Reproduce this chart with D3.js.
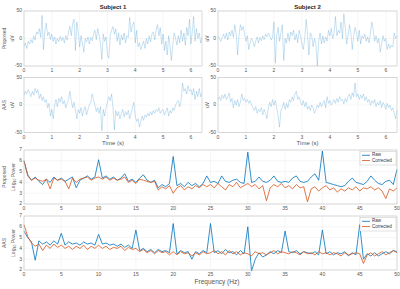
<!DOCTYPE html>
<html>
<head>
<meta charset="utf-8">
<script src="https://cdn.jsdelivr.net/npm/d3@7"></script>
<style>
body { margin: 0; background: #fff; }
svg { display: block; font-family: "Liberation Sans", Arial, sans-serif; }
</style>
</head>
<body>
<script>
// time traces, one sample every 0.05 s (uV)
const eegTime = d3.range(129).map(i => i * 0.05);
const s1Proposed = [-15,-8,-18,-5,-10,-2, -8,5,-3,12,8, 18,2,42,-20,15, 28,5,12,-2,8, -5,3,-10,0,-6, 4,-4,2,-8,5,
    -3,12,22,5,28, 35,-22,30,10,-15, 5,-8,-25,0,-6, 3,-10,2,-4,8, 15,-2,18,6,-10, -38,8,-5,3,-30, -36,5,15,22,8,
    18,-5,10,-12,6, -3,10,-8,5,2, 38,12,25,30,-8, 15,-15,-8,-20,-12, -5,-18,0,-10,5, -6,8,12,-3,15, 25,5,20,-10,8,
    -22,-5,-30,5,-15, -40,-10,10,0,-12, 5,-8,15,-5,10, -12,20,5,35,-10, 12,40,-5,18,0, 10,-8,2];
const s2Proposed = [5,0,-5,2,8,0, 10,-3,12,5,15, 2,25,10,-30,5, 25,15,22,8,-5, 5,-20,-8,0,-5, -15,-5,3,-8,2,
    -4,5,-2,8,3, 10,5,-3,2,30, -45,5,20,-5,10, 25,-40,0,-8,10, -5,12,5,15,-3, 8,-8,15,5,-10, -20,0,35,8,-30,
    10,5,-15,0,-10, -50,-5,10,-10,5, -8,3,-5,15,5, 18,0,10,40,5, 15,10,30,0,45, 20,-10,5,25,10, -20,5,20,10,-5,
    15,-10,5,0,8, -5,3,-8,10,30, 15,-5,5,-8,0, -25,-10,5,-5,0, -20,-10,-18,-12,-15, 10,0,5];
const s1Aas = [18,25,20,28,22,15, 25,18,30,22,28, 12,20,8,15,5, 10,-5,3,-20,-8, -25,0,10,-3,12, 5,15,2,8,-5,
    3,10,25,8,-5, 5,-10,-25,-8,-15, -5,-20,-10,-3,-18, -8,0,5,20,10, 0,-12,-5,-15,-3, -47,-8,-20,-5,5, 15,8,20,-5,-45,
    -10,-20,-12,-25,-15, -8,-22,-12,-18,-10, -25,-15,-5,5,-20, -30,-25,-40,-30,-20, -28,-18,-22,-15,-20, -12,-18,-10,-15,-8,
    -12,-5,-15,-10,-8, -18,-12,-5,-20,-10, -15,-5,-10,0,5, 8,-3,10,40,25, 30,20,35,25,28, 18,30,10,25,15, 30,15,22];
const s2Aas = [10,15,8,18,12,20, 10,15,22,5,12, -5,8,0,10,-3, 5,20,8,12,5, 10,3,8,0,-5, -10,-3,-15,-8,-12,
    -5,-18,-8,-15,-25, -5,5,-3,10,0, 8,-5,-20,-40,-10, -5,5,-8,3,-5, 10,5,15,8,20, 25,10,15,5,0, 8,-3,5,-8,-2,
    -10,0,-5,-15,-8, 0,-5,5,-3,3, 8,-5,15,3,8, 0,5,10,3,12, 5,15,8,10,2, 12,5,15,20,10, 22,15,40,15,20,
    10,18,12,20,8, 15,5,10,0,8, 3,10,-3,5,0, 8,-5,5,0,-8, 3,-5,0,-10,-5, -15,-25,-10];

// spectra, one bin every 0.5 Hz (log10 power)
const freqs = d3.range(101).map(i => i * 0.5);
const propRaw = [6.0,4.7,4.2,4.5,4.1,3.8,4.3,4.0,4.5,4.2, 4.4,4.1,4.3,4.5,3.5,4.2,4.4,4.6,4.3,4.5,
    6.1,4.4,4.6,4.3,4.5,4.2,4.4,4.8,4.1,4.3, 4.0,4.4,4.7,4.2,4.0,4.2,3.5,3.8,3.6,3.9,
    6.4,3.7,3.9,3.6,4.0,3.7,3.9,3.6,3.9,4.6, 4.0,4.1,3.9,4.6,4.1,4.0,4.2,4.3,4.0,3.9,
    6.8,4.0,4.1,4.5,4.1,4.0,4.2,4.6,4.1,4.0, 4.1,4.0,4.4,4.6,4.1,4.0,4.1,4.5,4.8,4.2,
    6.9,4.0,3.9,3.8,3.7,3.6,3.7,4.1,4.4,4.0, 3.9,3.8,4.1,4.6,4.2,3.9,3.8,4.1,4.2,3.8, 5.2];
const propCorr = [6.0,4.6,4.2,4.4,4.2,4.1,4.3,3.4,4.4,4.2, 4.3,4.1,3.4,4.4,4.0,4.3,4.4,4.5,4.2,4.4,
    4.5,4.3,4.5,4.2,4.4,4.2,4.3,4.5,4.0,4.2, 3.9,4.3,4.2,4.1,4.0,4.1,3.3,3.6,3.4,3.7,
    3.0,3.5,3.7,3.3,3.6,3.4,3.7,3.5,3.8,3.6, 3.8,3.5,3.9,3.6,3.3,3.8,3.6,4.0,3.5,3.7,
    3.9,3.6,3.8,3.4,3.7,2.3,3.5,3.8,3.6,3.9, 3.5,3.7,3.4,3.8,3.5,3.6,2.2,3.4,3.6,3.2,
    3.5,3.7,3.3,3.5,3.1,3.4,3.2,3.5,3.3,3.6, 3.2,3.5,3.4,3.6,3.3,3.5,3.2,2.5,3.4,3.2, 3.5];
const aasRaw = [5.6,5.0,4.6,2.9,4.7,4.4,4.6,4.3,4.7,4.4, 5.4,4.3,4.6,4.4,4.5,4.3,4.6,4.4,4.5,4.3,
    5.3,4.4,4.5,4.3,4.4,4.2,4.4,4.1,4.3,4.0, 5.7,3.8,4.0,3.7,3.9,3.6,3.9,3.7,3.8,3.6,
    6.3,3.5,3.8,3.6,3.7,3.0,3.7,3.5,3.8,3.6, 6.3,3.6,3.8,3.5,3.9,3.6,3.7,3.4,3.8,3.5,
    6.0,1.9,3.0,3.6,3.2,3.4,3.7,3.5,3.8,3.6, 5.6,3.7,3.6,3.8,3.5,3.7,3.6,3.5,3.7,3.4,
    5.7,3.5,3.7,3.4,3.6,3.5,3.7,3.3,3.6,3.4, 6.2,3.0,3.5,3.3,3.6,3.3,3.5,3.7,3.5,3.8, 3.7];
const aasCorr = [6.2,5.1,4.5,4.2,4.4,3.8,4.3,4.0,4.4,4.1, 4.3,4.0,4.2,3.9,4.2,4.0,4.3,3.9,4.2,4.0,
    4.3,4.0,4.2,3.9,4.1,4.0,4.2,3.8,4.1,3.9, 4.0,3.7,3.9,3.6,3.8,3.5,3.8,3.6,3.7,3.4,
    3.7,3.4,3.7,3.5,3.6,3.3,3.6,3.4,3.7,3.5, 3.6,3.8,3.5,3.7,3.4,3.8,3.5,3.7,3.4,3.6,
    3.5,3.3,3.7,3.5,3.6,3.4,3.6,3.8,3.5,3.7, 3.6,3.5,3.7,3.6,3.4,3.7,3.5,3.6,3.4,3.7,
    3.5,3.6,3.4,3.6,3.5,3.3,3.6,3.4,3.5,3.6, 3.5,2.6,3.4,3.6,3.3,3.5,3.7,3.4,3.6,3.8, 3.6];

const timeTicks = [0, 1, 2, 3, 4, 5, 6];
const uvTicks = [-50, 0, 50];
const freqTicks = [0, 5, 10, 15, 20, 25, 30, 35, 40, 45, 50];
const powerTicks = [2, 3, 4, 5, 6, 7];
const legendLabels = ['Raw', 'Corrected'];

const blue = '#0072BD';
const orange = '#D95319';
const boxColor = '#c4c4c4';
const gridColor = '#ececec';
const textColor = '#555';

const svg = d3.select('body')
    .append('svg')
    .attr('width', 400)
    .attr('height', 289);

function panel(x, y) {
    const g = svg.append('g');
    const [x0, x1] = x.range();
    const [y0, y1] = y.range();
    g.append('rect')
        .attr('x', x0).attr('y', y1)
        .attr('width', x1 - x0).attr('height', y0 - y1)
        .attr('fill', '#fff');
    return g;
}

function frame(g, x, y, xTicks, yTicks) {
    const [x0, x1] = x.range();
    const [y0, y1] = y.range();
    g.selectAll('line.vgrid')
        .data(xTicks)
        .enter()
        .append('line')
        .attr('x1', d => x(d)).attr('x2', d => x(d))
        .attr('y1', y1).attr('y2', y0)
        .attr('stroke', gridColor).attr('stroke-width', 0.5);
    g.selectAll('line.hgrid')
        .data(yTicks)
        .enter()
        .append('line')
        .attr('x1', x0).attr('x2', x1)
        .attr('y1', d => y(d)).attr('y2', d => y(d))
        .attr('stroke', gridColor).attr('stroke-width', 0.5);
}

function box(g, x, y, xTicks, yTicks) {
    const [x0, x1] = x.range();
    const [y0, y1] = y.range();
    g.append('rect')
        .attr('x', x0).attr('y', y1)
        .attr('width', x1 - x0).attr('height', y0 - y1)
        .attr('fill', 'none')
        .attr('stroke', boxColor).attr('stroke-width', 0.6);
    g.selectAll('text.xt')
        .data(xTicks)
        .enter()
        .append('text')
        .attr('x', d => x(d)).attr('y', y0 + 2)
        .attr('text-anchor', 'middle')
        .attr('dominant-baseline', 'hanging')
        .attr('font-size', 5)
        .attr('fill', textColor)
        .text(d => d);
    g.selectAll('text.yt')
        .data(yTicks)
        .enter()
        .append('text')
        .attr('x', x0 - 2).attr('y', d => y(d))
        .attr('text-anchor', 'end')
        .attr('dominant-baseline', 'middle')
        .attr('font-size', 5)
        .attr('fill', textColor)
        .text(d => d);
}

function yLabel(lines, cx, cy) {
    lines.forEach(([txt, dx]) => {
        const t = svg.append('text')
            .attr('transform', `translate(${cx + dx} ${cy}) rotate(-90)`)
            .attr('text-anchor', 'middle')
            .attr('dominant-baseline', 'middle')
            .attr('font-size', 5)
            .attr('fill', textColor);
        if (txt === 'Log10 Power') {
            t.append('tspan').text('Log');
            t.append('tspan').attr('font-size', 3.5).attr('dy', 1.2).text('10');
            t.append('tspan').attr('dy', -1.2).text(' Power');
        } else {
            t.text(txt);
        }
    });
}

// EEG time panels
const timeLayout = [
    { data: s1Proposed, x: [24, 202], y: [66, 11] },
    { data: s2Proposed, x: [218, 397], y: [66, 11] },
    { data: s1Aas, x: [24, 202], y: [132.5, 77.5] },
    { data: s2Aas, x: [218, 397], y: [132.5, 77.5] },
];

timeLayout.forEach(p => {
    const x = d3.scaleLinear().domain([0, 6.4]).range(p.x);
    const y = d3.scaleLinear().domain([-50, 50]).range(p.y);
    const g = panel(x, y);
    frame(g, x, y, timeTicks, uvTicks);
    const line = d3.line().x((d, i) => x(eegTime[i])).y(d => y(d));
    g.append('path')
        .attr('d', line(p.data))
        .attr('fill', 'none')
        .attr('stroke', blue)
        .attr('stroke-opacity', 0.4)
        .attr('stroke-width', 0.55);
    box(g, x, y, timeTicks, uvTicks);
});

svg.append('text').attr('x', 113).attr('y', 7)
    .attr('text-anchor', 'middle').attr('dominant-baseline', 'middle')
    .attr('font-size', 6).attr('font-weight', 'bold').attr('fill', '#222')
    .text('Subject 1');
svg.append('text').attr('x', 307.5).attr('y', 7)
    .attr('text-anchor', 'middle').attr('dominant-baseline', 'middle')
    .attr('font-size', 6).attr('font-weight', 'bold').attr('fill', '#222')
    .text('Subject 2');

[113, 307.5].forEach(cx => {
    svg.append('text').attr('x', cx).attr('y', 143)
        .attr('text-anchor', 'middle').attr('dominant-baseline', 'middle')
        .attr('font-size', 6).attr('fill', textColor)
        .text('Time (s)');
});

yLabel([['Proposed', 0], ['uV', 8]], 5, 38.5);
yLabel([['uV', 0]], 207.5, 38.5);
yLabel([['AAS', 0], ['uV', 8]], 5, 105);
yLabel([['uV', 0]], 207.5, 105);

// spectra panels
const specLayout = [
    { raw: propRaw, corr: propCorr, y: [204, 150] },
    { raw: aasRaw, corr: aasCorr, y: [270, 216] },
];

specLayout.forEach(p => {
    const x = d3.scaleLinear().domain([0, 50]).range([24, 397]);
    const y = d3.scaleLinear().domain([2, 7]).range(p.y);
    const g = panel(x, y);
    frame(g, x, y, freqTicks, powerTicks);
    const line = d3.line().x((d, i) => x(freqs[i])).y(d => y(d));
    [[p.raw, blue], [p.corr, orange]].forEach(([vals, color]) => {
        g.append('path')
            .attr('d', line(vals))
            .attr('fill', 'none')
            .attr('stroke', color)
            .attr('stroke-width', 0.8)
            .attr('stroke-linejoin', 'round');
    });
    box(g, x, y, freqTicks, powerTicks);

    // legend
    const lx = 360, ly = p.y[1] + 1.5;
    const leg = g.append('g');
    leg.append('rect')
        .attr('x', lx).attr('y', ly)
        .attr('width', 36).attr('height', 13.5)
        .attr('fill', '#fff')
        .attr('stroke', boxColor).attr('stroke-width', 0.5);
    leg.selectAll('g.item')
        .data(legendLabels)
        .enter()
        .append('g')
        .attr('transform', (d, i) => `translate(${lx} ${ly + 3.8 + i * 5.2})`)
        .each(function (d, i) {
            const it = d3.select(this);
            it.append('line')
                .attr('x1', 2).attr('x2', 10)
                .attr('stroke', i === 0 ? blue : orange)
                .attr('stroke-width', 0.8);
            it.append('text')
                .attr('x', 12)
                .attr('dominant-baseline', 'middle')
                .attr('font-size', 4.5)
                .attr('fill', '#333')
                .text(d);
        });
});

yLabel([['Proposed', 0], ['Log10 Power', 8.5]], 5, 177);
yLabel([['AAS', 0], ['Log10 Power', 8.5]], 5, 243);

svg.append('text').attr('x', 217).attr('y', 282)
    .attr('text-anchor', 'middle').attr('dominant-baseline', 'middle')
    .attr('font-size', 6.5).attr('fill', textColor)
    .text('Frequency (Hz)');
</script>
</body>
</html>
